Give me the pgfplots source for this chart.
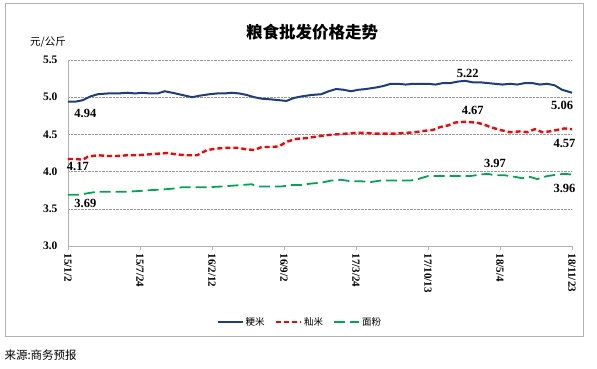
\documentclass[border=0pt]{standalone}
\usepackage{pgfplots}
\pgfplotsset{compat=1.18}
\usepackage{fontspec}
\setmainfont{Liberation Serif}
\newfontfamily\cjk{Noto Sans CJK SC}
\definecolor{cblue}{HTML}{1F3D7A}
\definecolor{cred}{HTML}{FF0000}
\definecolor{cgreen}{HTML}{00A651}
\begin{document}
\begin{tikzpicture}
\begin{axis}[
  name=ax, anchor=south west, at={(0pt,0pt)}, scale only axis,
  width=504pt, height=186pt,
  xmin=0, xmax=203, ymin=3, ymax=5.5,
  clip=false,
  axis x line*=bottom, axis y line*=left,
  axis line style={gray!60, line width=0.8pt, -},
  ytick={3.0,3.5,4.0,4.5,5.0,5.5},
  /pgf/number format/fixed, /pgf/number format/fixed zerofill,
  /pgf/number format/precision=1, /pgf/number format/assume math mode=true,
  yticklabel style={font=\bfseries\fontsize{11.5}{12}\selectfont, xshift=-3pt},
  ymajorgrids, grid style={densely dotted, gray!80, line width=0.6pt},
  ytick style={draw=none},
  xtick={0,29,58,87,116,145,174,203},
  xticklabels={15/1/2,15/7/24,16/2/12,16/9/2,17/3/24,17/10/13,18/5/4,18/11/23},
  xticklabel style={rotate=-90, anchor=west, font=\bfseries\fontsize{11}{11}\selectfont},
  x tick style={gray!60, line width=0.8pt},
  tick align=outside, major tick length=4pt,
  legend style={at={(axis description cs:0.46,-0.41)}, anchor=center, draw=none, fill=none,
    legend columns=3, font=\cjk\fontsize{9.5}{9.5}\selectfont,
    /tikz/every even column/.append style={column sep=8pt}},
  legend image code/.code={\draw[#1] (0,0) -- (0.88cm,0);},
]
\addplot[cblue, line width=2pt] coordinates {
(0,4.94)(3,4.94)(6,4.96)(9,5.01)(12,5.04)(16,5.05)(20,5.05)(24,5.06)(27,5.05)(30,5.06)
(33,5.05)(36,5.05)(39,5.08)(42,5.06)(46,5.03)(50,5.00)(53,5.02)(57,5.04)(60,5.05)(63,5.05)
(66,5.06)(69,5.05)(72,5.03)(75,5.00)(78,4.98)(82,4.97)(85,4.96)(88,4.95)(91,4.99)(94,5.01)
(98,5.03)(102,5.04)(105,5.08)(108,5.11)(111,5.10)(114,5.08)(117,5.10)(120,5.11)(124,5.13)
(127,5.15)(130,5.18)(133,5.18)(136,5.17)(139,5.18)(142,5.18)(145,5.18)(148,5.17)(151,5.19)
(154,5.19)(157,5.21)(160,5.22)(163,5.20)(166,5.20)(169,5.19)(172,5.18)(175,5.17)(178,5.18)
(181,5.17)(184,5.19)(187,5.19)(190,5.17)(193,5.18)(196,5.16)(199,5.10)(203,5.06)};
\addlegendentry{粳米}
\addplot[cred, line width=2.4pt, dash pattern=on 5pt off 3pt] coordinates {
(0,4.17)(3,4.17)(6,4.16)(8,4.20)(12,4.22)(16,4.21)(20,4.21)(24,4.22)(28,4.22)(32,4.23)
(36,4.24)(40,4.25)(44,4.23)(48,4.22)(52,4.22)(56,4.29)(60,4.31)(64,4.32)(68,4.32)(72,4.30)
(75,4.29)(78,4.33)(82,4.33)(85,4.34)(88,4.40)(92,4.44)(96,4.45)(100,4.47)(104,4.49)(108,4.50)
(112,4.51)(116,4.52)(120,4.52)(124,4.51)(128,4.51)(132,4.51)(136,4.52)(140,4.53)(144,4.55)
(147,4.56)(150,4.60)(153,4.62)(156,4.66)(160,4.67)(164,4.66)(167,4.64)(170,4.60)(174,4.56)
(178,4.53)(182,4.54)(185,4.53)(188,4.57)(191,4.53)(194,4.54)(197,4.56)(200,4.58)(203,4.57)};
\addlegendentry{籼米}
\addplot[cgreen, line width=1.8pt, dash pattern=on 11pt off 5pt] coordinates {
(0,3.69)(5,3.69)(8,3.71)(12,3.73)(18,3.73)(24,3.73)(29,3.74)(33,3.75)(38,3.76)(42,3.77)
(46,3.79)(50,3.79)(56,3.79)(62,3.80)(66,3.81)(70,3.82)(74,3.83)(76,3.80)(82,3.80)(86,3.80)
(90,3.82)(94,3.82)(98,3.84)(102,3.85)(106,3.88)(110,3.89)(114,3.87)(118,3.87)(122,3.86)
(126,3.88)(130,3.88)(134,3.88)(138,3.88)(141,3.90)(145,3.94)(150,3.94)(154,3.94)(158,3.94)
(162,3.94)(166,3.96)(169,3.97)(172,3.95)(176,3.95)(180,3.93)(183,3.91)(186,3.93)(189,3.90)
(193,3.94)(197,3.96)(200,3.97)(203,3.96)};
\addlegendentry{面粉}
\begin{scope}[every node/.style={font=\bfseries\fontsize{12.5}{13}\selectfont}]
\node at (axis cs:7,4.785) {4.94};
\node at (axis cs:4,4.073) {4.17};
\node at (axis cs:7,3.575) {3.69};
\node at (axis cs:161,5.32) {5.22};
\node at (axis cs:199,4.89) {5.06};
\node at (axis cs:163,4.825) {4.67};
\node at (axis cs:200,4.38) {4.57};
\node at (axis cs:172,4.113) {3.97};
\node at (axis cs:200,3.777) {3.96};
\end{scope}
\end{axis}
\begin{scope}[shift={(ax.south west)}, x=1pt, y=1pt]
\path[use as bounding box] (-68,-123) rectangle (529,246);
\draw[gray!60, line width=0.8pt] (-63,-90) rectangle (515,243);
\node[font=\cjk\bfseries\fontsize{16.5}{16.5}\selectfont] at (244,214) {粮食批发价格走势};
\node[font=\cjk\fontsize{10.5}{10.5}\selectfont] at (-20,204) {元/公斤};
\node[anchor=west, font=\cjk\fontsize{11.5}{11.5}\selectfont] at (-67,-109) {来源:商务预报};
\end{scope}
\end{tikzpicture}
\end{document}
